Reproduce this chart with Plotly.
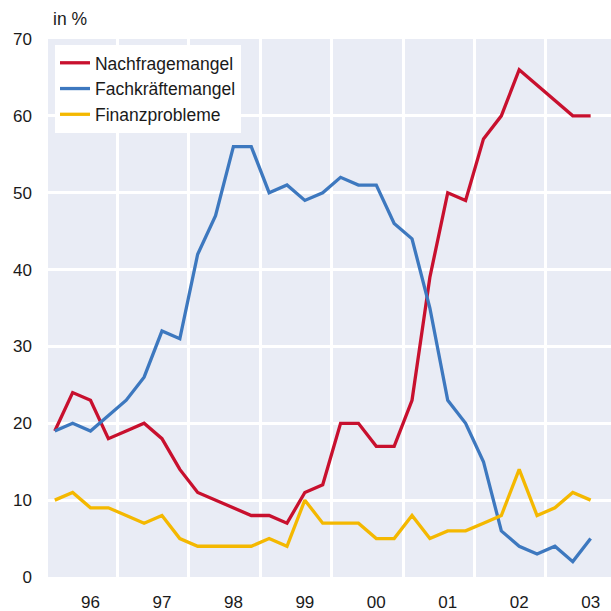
import plotly.graph_objects as go

# quarterly survey points, 1996 Q1 .. 2003 Q3 (plotted at quarter midpoints)
start_year = 1996
n_points = 31
quarter_pos = [start_year + (i + 0.5) / 4 for i in range(n_points)]

nachfragemangel = [19, 24, 23, 18, 19, 20, 18, 14, 11, 10, 9, 8, 8, 7, 11, 12,
                   20, 20, 17, 17, 23, 39, 50, 49, 57, 60, 66, 64, 62, 60, 60]
fachkraeftemangel = [19, 20, 19, 21, 23, 26, 32, 31, 42, 47, 56, 56, 50, 51, 49, 50,
                     52, 51, 51, 46, 44, 35, 23, 20, 15, 6, 4, 3, 4, 2, 5]
finanzprobleme = [10, 11, 9, 9, 8, 7, 8, 5, 4, 4, 4, 4, 5, 4, 10, 7,
                  7, 7, 5, 5, 8, 5, 6, 6, 7, 8, 14, 8, 9, 11, 10]

series_names = ["Nachfragemangel", "Fachkräftemangel", "Finanzprobleme"]
series_colors = ["#C8102E", "#3D78BF", "#F4B800"]

year_labels = ["96", "97", "98", "99", "00", "01", "02", "03"]
year_label_pos = [1996.625 + k for k in range(len(year_labels))]
year_bounds = [1997 + k for k in range(7)]
y_ticks = [0, 10, 20, 30, 40, 50, 60, 70]

FONT = "Liberation Sans, Arial, sans-serif"

fig = go.Figure()
for name, vals, col in zip(series_names,
                           [nachfragemangel, fachkraeftemangel, finanzprobleme],
                           series_colors):
    fig.add_trace(go.Scatter(x=quarter_pos, y=vals, mode="lines", name=name,
                             line=dict(color=col, width=3.3)))

fig.update_layout(
    width=611, height=611,
    margin=dict(l=48, r=0, t=39, b=34),
    paper_bgcolor="white",
    plot_bgcolor="#E9ECF5",
    font=dict(family=FONT, size=17, color="#1a1a1a"),
    showlegend=True,
    legend=dict(x=0.0124, y=0.989, xanchor="left", yanchor="top",
                bgcolor="white", borderwidth=0,
                font=dict(family=FONT, size=17.5, color="#1a1a1a"),
                itemwidth=30, tracegroupgap=0),
    annotations=[dict(text="in %", xref="paper", yref="paper",
                      x=0.005, y=1.038, xanchor="left", yanchor="middle",
                      showarrow=False, font=dict(family=FONT, size=17.5, color="#1a1a1a"))],
)

fig.update_xaxes(
    range=[1996.03, 2003.91], automargin=False,
    tickmode="array", tickvals=year_label_pos, ticktext=year_labels,
    showgrid=False, zeroline=False, showline=False, ticks="",
    ticklabelstandoff=13,
    minor=dict(tickmode="array", tickvals=year_bounds, showgrid=True,
               gridcolor="white", gridwidth=3, ticks=""),
)
fig.update_yaxes(
    range=[0, 70], automargin=False,
    tickmode="array", tickvals=y_ticks,
    showgrid=True, gridcolor="white", gridwidth=3,
    zeroline=False, showline=False, ticks="",
    ticklabelstandoff=15,
)

fig.write_html("out.html",
               config={"displayModeBar": False},
               post_script="document.body.style.margin='0';document.body.style.overflow='hidden';")
